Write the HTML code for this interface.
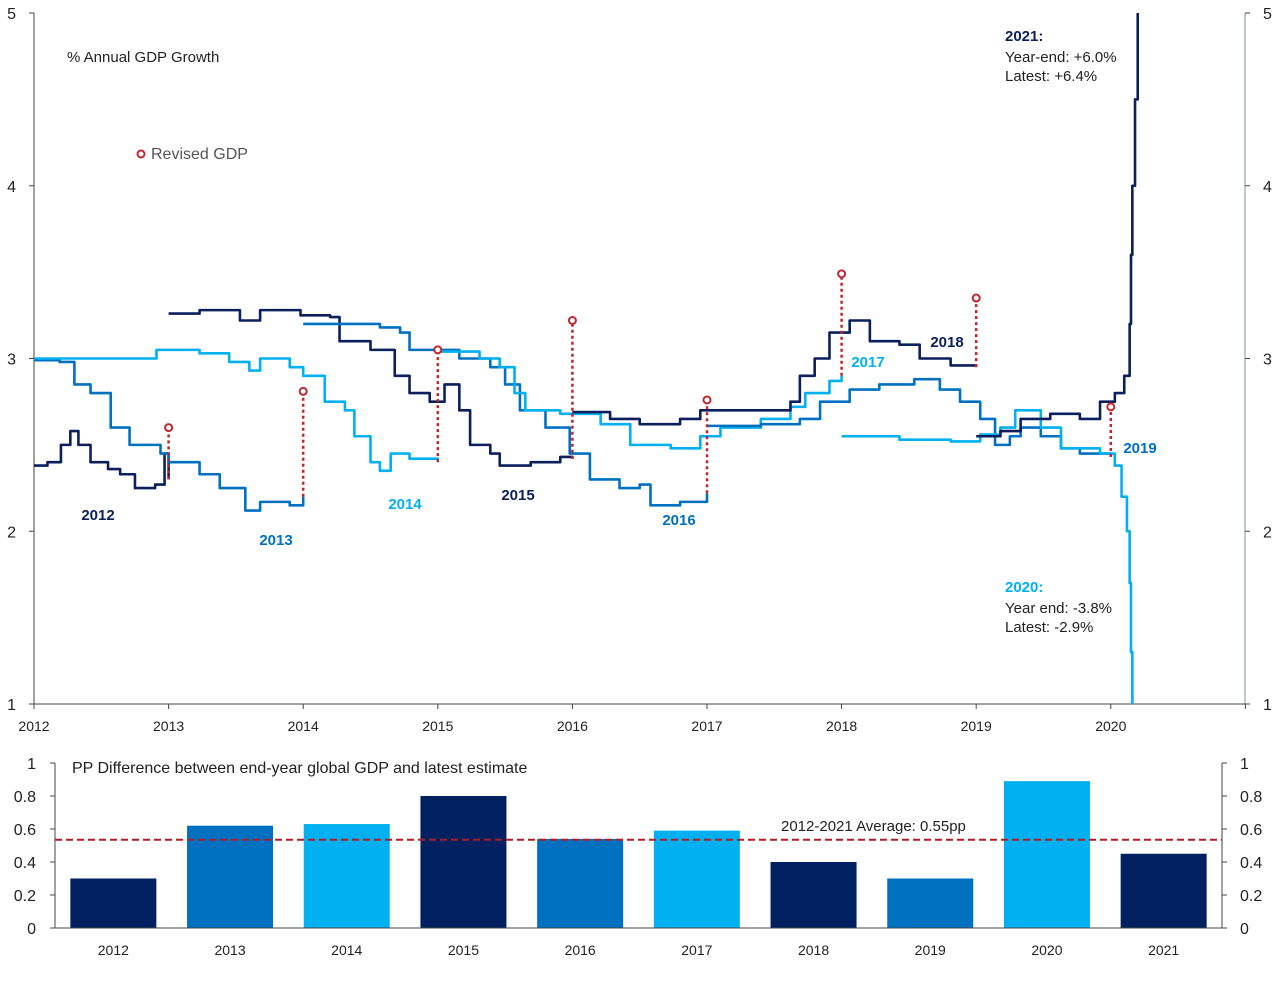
<!DOCTYPE html>
<html><head><meta charset="utf-8"><style>
body{margin:0;background:#fff;font-family:"Liberation Sans",Arial,sans-serif}
svg{display:block}
</style></head><body>
<svg id="c" width="1280" height="985" xmlns="http://www.w3.org/2000/svg" font-family="Liberation Sans, Arial, sans-serif">
<g id="topchart"></g>
<g id="botchart"></g>
</svg>
<script>
const NAVY='#0a1f5c', MID='#0070c0', LIGHT='#00b0f0', RED='#c0262d';
// Top chart data: [years since 2012, value]
const s2012=[[0,2.38],[0.1,2.4],[0.2,2.5],[0.27,2.58],[0.33,2.5],[0.42,2.4],[0.55,2.36],[0.64,2.33],[0.75,2.25],[0.9,2.27],[0.97,2.45],[1.0,2.3]];
const s2013=[[0,2.99],[0.19,2.98],[0.3,2.85],[0.42,2.8],[0.57,2.6],[0.71,2.5],[0.94,2.45],[1.0,2.4],[1.23,2.33],[1.38,2.25],[1.57,2.12],[1.68,2.17],[1.9,2.15],[2.0,2.2]];
const s2014=[[0,3.0],[0.9,3.0],[0.91,3.05],[1.23,3.03],[1.45,2.98],[1.6,2.93],[1.68,3.0],[1.9,2.95],[2.0,2.9],[2.16,2.75],[2.31,2.7],[2.38,2.55],[2.5,2.4],[2.57,2.35],[2.65,2.45],[2.79,2.42],[3.0,2.4]];
const s2015=[[1.0,3.26],[1.23,3.28],[1.53,3.22],[1.68,3.28],[1.98,3.25],[2.2,3.24],[2.27,3.1],[2.5,3.05],[2.68,2.9],[2.79,2.8],[2.94,2.75],[3.05,2.85],[3.16,2.7],[3.24,2.5],[3.39,2.45],[3.46,2.38],[3.69,2.4],[3.91,2.43],[4.0,2.42]];
const s2016=[[2.0,3.2],[2.57,3.18],[2.72,3.15],[2.79,3.05],[3.16,3.0],[3.39,2.95],[3.5,2.85],[3.61,2.7],[3.8,2.6],[3.98,2.45],[4.13,2.3],[4.35,2.25],[4.5,2.27],[4.58,2.15],[4.8,2.17],[5.0,2.22]];
const s2017=[[3.0,3.04],[3.31,3.0],[3.46,2.95],[3.57,2.8],[3.65,2.7],[3.91,2.68],[4.21,2.62],[4.43,2.5],[4.73,2.48],[4.95,2.55],[5.1,2.6],[5.4,2.65],[5.62,2.72],[5.73,2.8],[5.91,2.87],[6.0,2.9]];
const s2018=[[4.0,2.69],[4.28,2.65],[4.5,2.62],[4.8,2.65],[4.95,2.7],[5.4,2.7],[5.62,2.75],[5.69,2.9],[5.8,3.0],[5.91,3.15],[6.06,3.22],[6.21,3.1],[6.43,3.08],[6.58,3.0],[6.81,2.96],[7.0,2.95]];
const s2019=[[5.0,2.61],[5.4,2.62],[5.69,2.65],[5.84,2.75],[6.06,2.82],[6.28,2.85],[6.54,2.88],[6.73,2.82],[6.88,2.75],[7.03,2.65],[7.14,2.5],[7.25,2.55],[7.33,2.6],[7.48,2.55],[7.63,2.48],[7.77,2.45],[8.0,2.43]];
const s2020=[[6.0,2.55],[6.43,2.53],[6.81,2.52],[7.03,2.56],[7.18,2.6],[7.29,2.7],[7.48,2.6],[7.63,2.48],[7.92,2.45],[8.03,2.38],[8.08,2.2],[8.12,2.0],[8.14,1.7],[8.15,1.3],[8.16,1.0]];
const s2021=[[7.0,2.55],[7.18,2.58],[7.33,2.65],[7.55,2.68],[7.77,2.65],[7.92,2.75],[8.03,2.8],[8.1,2.9],[8.14,3.2],[8.15,3.6],[8.16,4.0],[8.18,4.5],[8.2,5.0]];
const revisedX=[1,2,3,4,5,6,7,8];
const revisedV=[2.6,2.81,3.05,3.22,2.76,3.49,3.35,2.72];
const endV=[2.3,2.2,2.4,2.42,2.22,2.9,2.95,2.43];
const topTicks=[1,2,3,4,5];
const yearLabels=['2012','2013','2014','2015','2016','2017','2018','2019','2020'];
// Bottom chart data
const barCats=['2012','2013','2014','2015','2016','2017','2018','2019','2020','2021'];
const barVals=[0.3,0.62,0.63,0.8,0.54,0.59,0.4,0.3,0.89,0.45];
const avgVal=0.535;
const botTicks=[0,0.2,0.4,0.6,0.8,1];
const botTickLabels=['0','0.2','0.4','0.6','0.8','1'];

const NS='http://www.w3.org/2000/svg';
function mk(p,tag,a,txt){const e=document.createElementNS(NS,tag);for(const k in a)e.setAttribute(k,a[k]);if(txt!==undefined)e.textContent=txt;p.appendChild(e);return e;}
const topG=document.getElementById('topchart'), botG=document.getElementById('botchart');
const X=t=>34+t*134.6, Y=v=>704-(v-1)*172.75;

let e;
e=mk(topG,'line',{x1:34,y1:13,x2:34,y2:704,stroke:'#444','stroke-width':1});


e=mk(topG,'line',{x1:1245,y1:13,x2:1245,y2:704,stroke:'#7f8fa6','stroke-width':1});


e=mk(topG,'line',{x1:34,y1:704,x2:1245,y2:704,stroke:'#444','stroke-width':1});


topTicks.forEach(v=>{
 mk(topG,'line',{x1:29,y1:Y(v),x2:34,y2:Y(v),stroke:'#444'});
 mk(topG,'line',{x1:1245,y1:Y(v),x2:1250,y2:Y(v),stroke:'#444'});
 e=mk(topG,'text',{x:16,y:Y(v)+6,'text-anchor':'end','font-size':16,fill:'#222'},String(v));
 
 
 e=mk(topG,'text',{x:1263,y:Y(v)+6,'font-size':16,fill:'#222'},String(v));
 
 
});
yearLabels.forEach((l,i)=>{
 mk(topG,'line',{x1:X(i),y1:704,x2:X(i),y2:709,stroke:'#444'});
 e=mk(topG,'text',{x:X(i),y:731,'text-anchor':'middle','font-size':14,fill:'#222'},l);
 
 
});
mk(topG,'line',{x1:X(9),y1:704,x2:X(9),y2:709,stroke:'#444'});

const series=[[s2012,NAVY,'2012'],[s2013,MID,'2013'],[s2014,LIGHT,'2014'],[s2015,NAVY,'2015'],[s2016,MID,'2016'],[s2017,LIGHT,'2017'],[s2018,NAVY,'2018'],[s2019,MID,'2019'],[s2020,LIGHT,'2020'],[s2021,NAVY,'2021']];
series.forEach(([d,c,n])=>{
 let p='';d.forEach((pt,i)=>{const x=X(pt[0]),y=Y(pt[1]);if(i==0)p+='M'+x+' '+y;else p+='H'+x+'V'+y;});
 e=mk(topG,'path',{d:p,fill:'none',stroke:c,'stroke-width':2.6,'stroke-linejoin':'round'});
 
 
});
revisedX.forEach((t,i)=>{
 e=mk(topG,'line',{x1:X(t),y1:Y(endV[i]),x2:X(t),y2:Y(revisedV[i]),stroke:RED,'stroke-width':2.5,'stroke-dasharray':'3,3'});
 
 
 e=mk(topG,'circle',{cx:X(t),cy:Y(revisedV[i]),r:3.5,fill:'#fff',stroke:RED,'stroke-width':2});
 
 
});
const lbl=[['2012',98,520,NAVY],['2013',276,545,MID],['2014',405,509,LIGHT],['2015',518,500,NAVY],['2016',679,525,MID],['2017',868,367,LIGHT],['2018',947,347,NAVY],['2019',1140,453,MID]];
lbl.forEach(([t,x,y,c])=>{e=mk(topG,'text',{x:x,y:y,'text-anchor':'middle','font-size':15,'font-weight':'bold',fill:c},t);
 
 });
e=mk(topG,'text',{x:67,y:62,'font-size':15,fill:'#222'},'% Annual  GDP Growth');


e=mk(topG,'circle',{cx:141,cy:154,r:3.5,fill:'#fff',stroke:RED,'stroke-width':2});


e=mk(topG,'text',{x:151,y:159,'font-size':16,fill:'#555'},'Revised GDP');


[['2021:',1005,41,NAVY,'bold'],['Year-end:  +6.0%',1005,62,'#222','normal'],['Latest:  +6.4%',1005,81,'#222','normal'],
 ['2020:',1005,592,LIGHT,'bold'],['Year end:  -3.8%',1005,613,'#222','normal'],['Latest:  -2.9%',1005,632,'#222','normal']].forEach(([t,x,y,c,w])=>{
 e=mk(topG,'text',{x:x,y:y,'font-size':15,'font-weight':w,fill:c},t);
 
 });

const BX0=55,BX1=1222,bw=(BX1-BX0)/barCats.length;
const BY=v=>928-v*165;
e=mk(botG,'line',{x1:BX0,y1:763,x2:BX0,y2:928,stroke:'#444'});


e=mk(botG,'line',{x1:BX1,y1:763,x2:BX1,y2:928,stroke:'#444'});


botTicks.forEach((v,i)=>{
 mk(botG,'line',{x1:BX0-5,y1:BY(v),x2:BX0,y2:BY(v),stroke:'#444'});
 mk(botG,'line',{x1:BX1,y1:BY(v),x2:BX1+5,y2:BY(v),stroke:'#444'});
 e=mk(botG,'text',{x:36,y:BY(v)+6,'text-anchor':'end','font-size':16,fill:'#222'},botTickLabels[i]);
 
 
 e=mk(botG,'text',{x:1240,y:BY(v)+6,'font-size':16,fill:'#222'},botTickLabels[i]);
 
 
});
barCats.forEach((c,i)=>{
 const cx=BX0+bw*(i+0.5);
 e=mk(botG,'rect',{x:cx-43,y:BY(barVals[i]),width:86,height:928-BY(barVals[i]),fill:(i%3==0)?'#002060':(i%3==1?MID:LIGHT)});
 
 
 e=mk(botG,'text',{x:cx,y:955,'text-anchor':'middle','font-size':14,fill:'#222'},c);
 
 
});
e=mk(botG,'line',{x1:BX0,y1:928,x2:BX1,y2:928,stroke:'#444'});


e=mk(botG,'line',{x1:BX0,y1:BY(avgVal),x2:BX1,y2:BY(avgVal),stroke:'#b01c24','stroke-width':2,'stroke-dasharray':'7,4'});


e=mk(botG,'text',{x:781,y:831,'font-size':15,fill:'#222'},'2012-2021 Average:  0.55pp');


e=mk(botG,'text',{x:72,y:773,'font-size':16,fill:'#222'},'PP Difference between end-year global GDP and latest estimate');


</script>
</body></html>
